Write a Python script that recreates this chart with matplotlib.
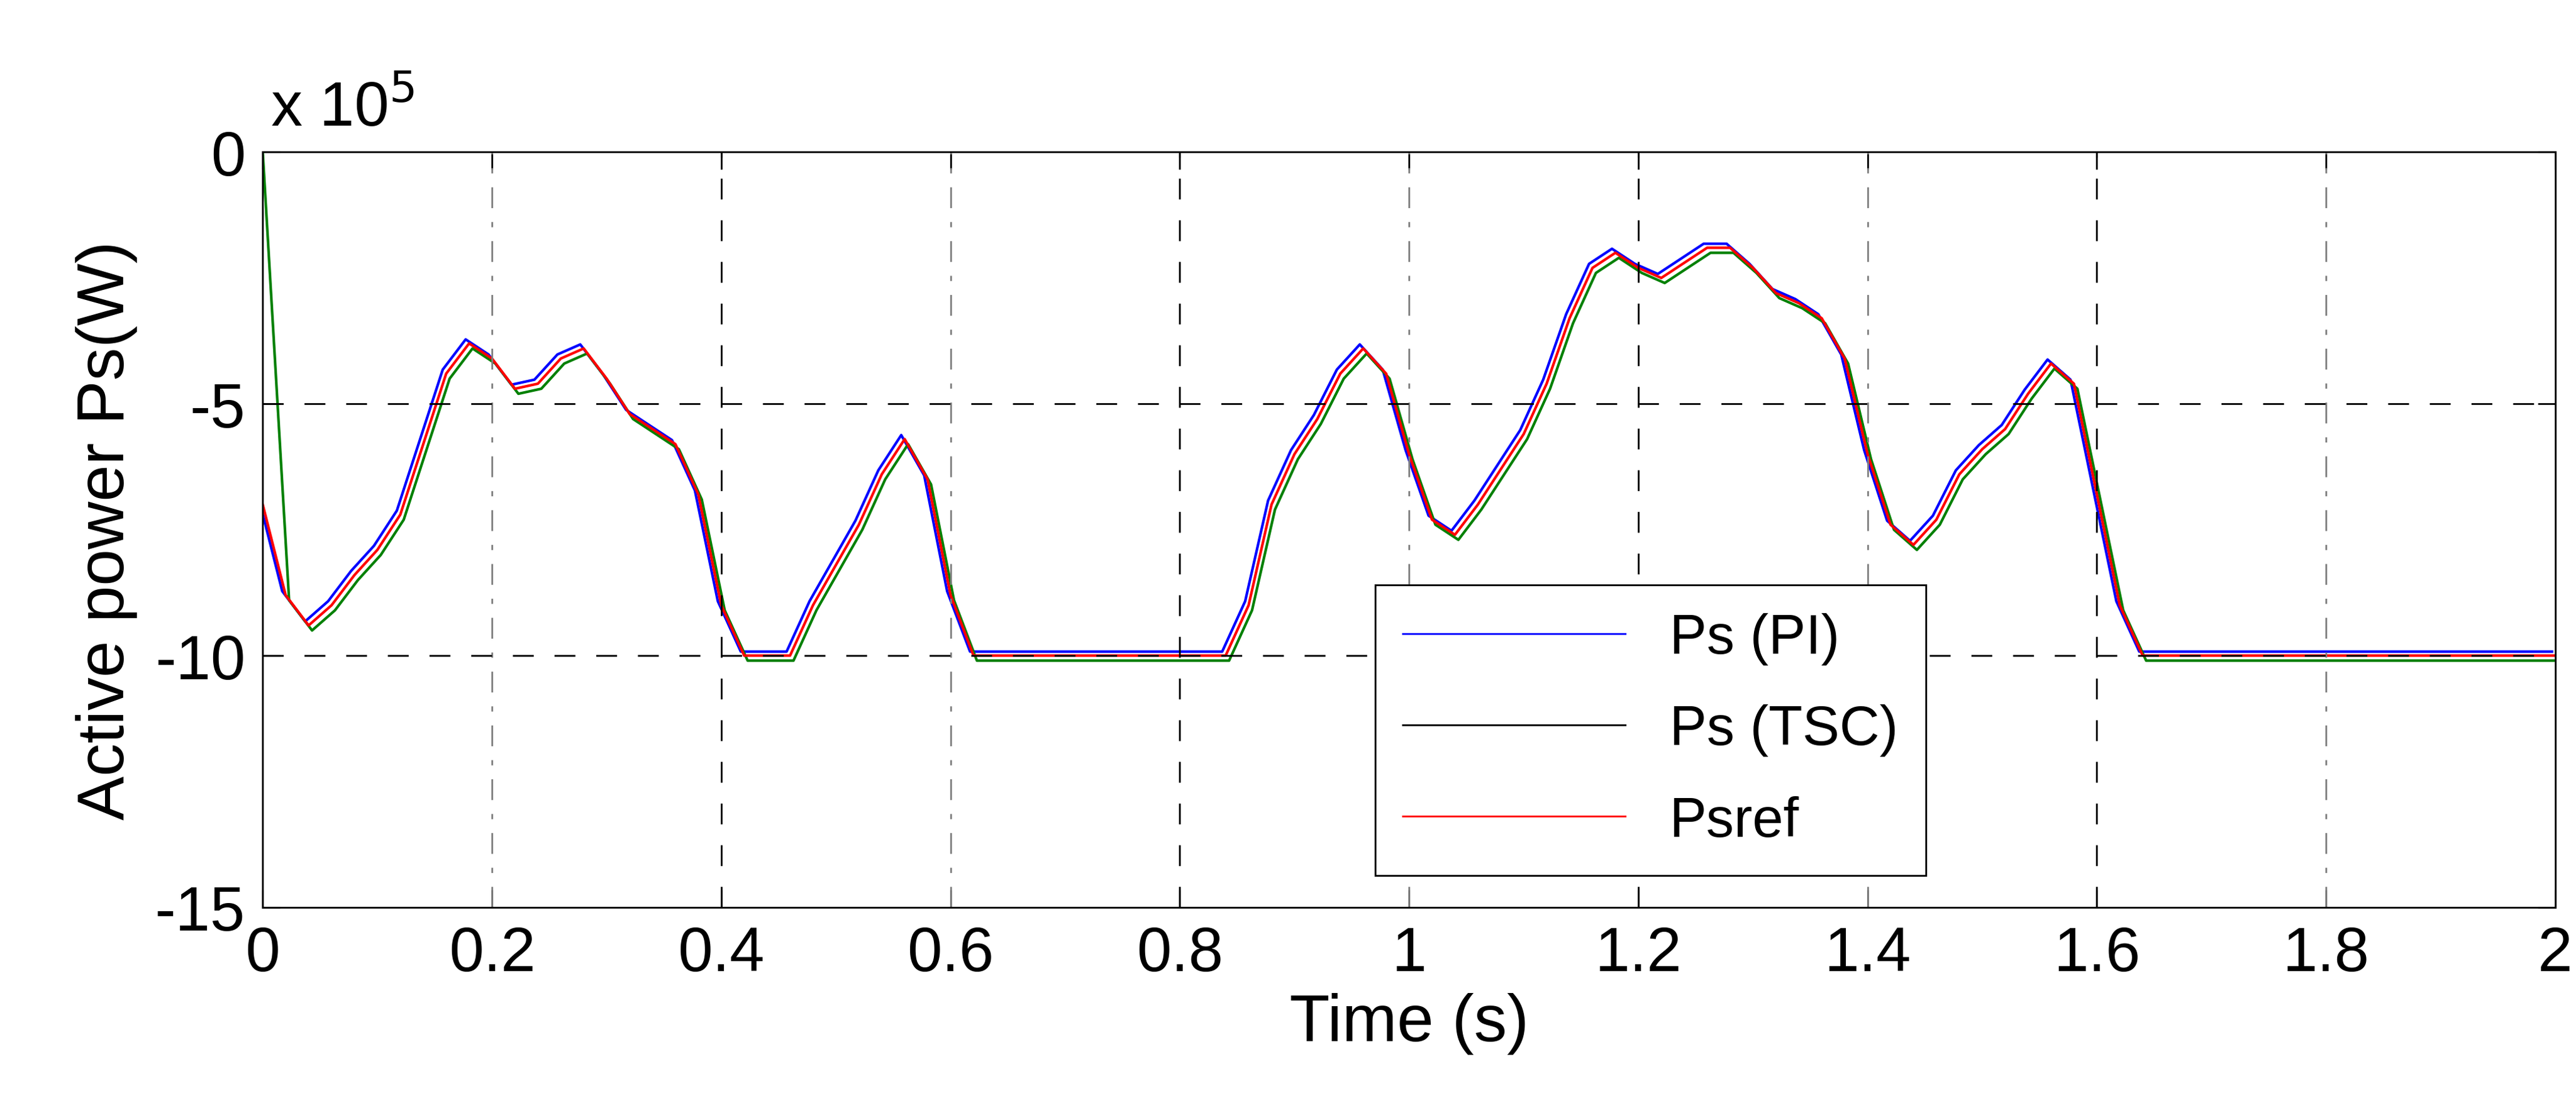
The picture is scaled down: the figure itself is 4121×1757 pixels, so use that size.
import numpy as np
import matplotlib.pyplot as plt
from matplotlib.lines import Line2D

plt.rcParams['font.family'] = ['Liberation Sans', 'DejaVu Sans']
plt.rcParams['axes.unicode_minus'] = False

# Psref in units of 1e5 W, sampled every 0.02 s
t = np.round(np.arange(0, 2.001, 0.02), 2)
psref = [-7.0, -8.8, -9.4, -9.0, -8.4, -7.9, -7.2, -5.8, -4.4, -3.8,
         -4.1, -4.7, -4.6, -4.1, -3.9, -4.5, -5.2, -5.5, -5.8, -6.8,
         -9.0, -10, -10, -10, -9.0, -8.2, -7.4, -6.4, -5.7, -6.5,
         -8.8, -10, -10, -10, -10, -10, -10, -10, -10, -10,
         -10, -10, -10, -9.0, -7.0, -6.0, -5.3, -4.4, -3.9, -4.4,
         -6.0, -7.3, -7.6, -7.0, -6.3, -5.6, -4.6, -3.3, -2.3, -2.0,
         -2.3, -2.5, -2.2, -1.9, -1.9, -2.3, -2.8, -3.0, -3.3, -4.1,
         -6.0, -7.4, -7.8, -7.3, -6.4, -5.9, -5.5, -4.8, -4.2, -4.6,
         -6.8, -9.0, -10, -10, -10, -10, -10, -10, -10, -10,
         -10, -10, -10, -10, -10, -10, -10, -10, -10, -10, -10]
psref = np.array(psref)
pi_shift = 0.08    # PI tracks slightly above the reference
tsc_shift = -0.10  # TSC tracks slightly below
lag = 0.003

fig = plt.figure(figsize=(41.21, 17.58), dpi=100)
ax = fig.add_axes([0.102, 0.1735, 0.890, 0.6875])

ax.plot(t - lag, psref + pi_shift, color='blue', lw=3)
ax.plot(np.r_[0, t[1:] + lag], np.r_[0, psref[1:] + tsc_shift], color='green', lw=3)
ax.plot(t, psref, color='red', lw=3)

ax.set_xlim(0, 2)
ax.set_ylim(-15, 0)
ax.set_xticks(np.arange(0, 2.01, 0.2))
ax.set_xticklabels(['0', '0.2', '0.4', '0.6', '0.8', '1', '1.2', '1.4', '1.6', '1.8', '2'])
ax.set_yticks([-15, -10, -5, 0])
ax.tick_params(direction='in', length=20, width=2, labelsize=72, top=True, right=True, pad=20)
for s in ax.spines.values():
    s.set_linewidth(2)

for x in np.arange(0.2, 2.0, 0.2):
    k = int(round(x / 0.2))
    if k % 2 == 0:
        ax.axvline(x, color='black', lw=2, ls=(0, (12, 12)))
    else:
        ax.axvline(x, color='gray', lw=2, ls=(0, (12, 8, 3, 8)))
for y in [-5, -10]:
    ax.axhline(y, color='black', lw=2, ls=(0, (12, 12)))

ax.set_xlabel('Time (s)', fontsize=76, labelpad=10)
ax.set_ylabel('Active power Ps(W)', fontsize=76, labelpad=20)
fig.text(0.105, 0.885, r'x 10$^{5}$', fontsize=72)

handles = [Line2D([], [], color='blue', lw=2),
           Line2D([], [], color='black', lw=2),
           Line2D([], [], color='red', lw=2)]
leg = ax.legend(handles, ['Ps (PI)', 'Ps (TSC)', 'Psref'], loc='upper left',
                bbox_to_anchor=(0.473, 0.464), fontsize=64, fancybox=False,
                edgecolor='black', framealpha=1, handlelength=4, borderpad=0.5,
                labelspacing=0.7)
leg.get_frame().set_linewidth(2)

fig.savefig('out.png', dpi=100)
